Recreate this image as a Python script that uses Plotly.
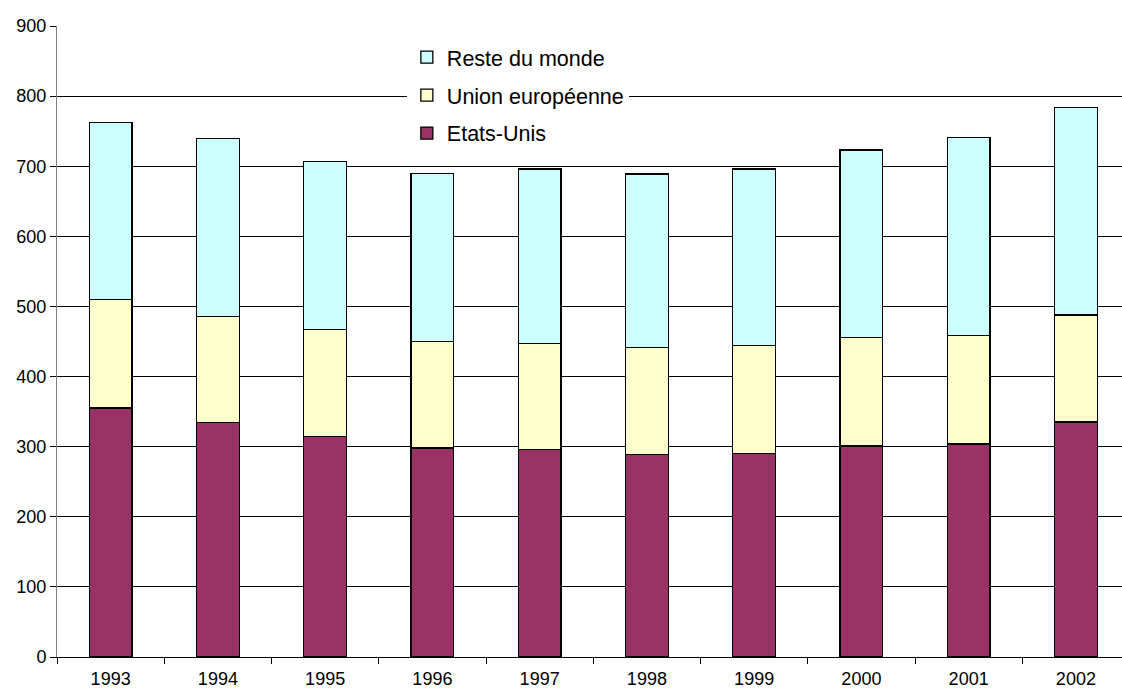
import plotly.graph_objects as go

years = ["1993", "1994", "1995", "1996", "1997", "1998", "1999", "2000", "2001", "2002"]
totals = [762, 740, 707, 690, 696, 689, 696, 723, 741, 784]
eu_top = [510, 486, 467, 450, 447, 441, 444, 456, 459, 488]
etats_unis = [355, 334, 315, 298, 296, 289, 290, 301, 304, 335]

union_europeenne = [e - u for e, u in zip(eu_top, etats_unis)]
reste_du_monde = [t - e for t, e in zip(totals, eu_top)]

names = ["Etats-Unis", "Union européenne", "Reste du monde"]
colors = ["#993366", "#FFFFCC", "#CCFFFF"]
series = [etats_unis, union_europeenne, reste_du_monde]
ranks = [3, 2, 1]

fig = go.Figure()
for name, col, vals, rk in zip(names, colors, series, ranks):
    fig.add_trace(go.Bar(
        x=years, y=vals, name=name, legendgroup=name, legendrank=rk,
        marker=dict(color=col, line=dict(color="#000000", width=1.3)),
        width=0.4,
    ))

fig.update_layout(
    width=1122, height=693,
    barmode="stack",
    plot_bgcolor="white", paper_bgcolor="white",
    margin=dict(l=57, r=0, t=26, b=36),
    font=dict(family="Liberation Sans, Arial", size=18, color="#000000"),
    showlegend=True,
    legend=dict(
        x=0.3285, y=0.983, xanchor="left", yanchor="top",
        bgcolor="white", borderwidth=0,
        traceorder="grouped", tracegroupgap=7,
        font=dict(size=21.5),
    ),
    xaxis=dict(
        type="category", range=[-0.5, 9.43],
        showgrid=False, showline=True, linecolor="#000000", linewidth=1,
        ticks="outside", tickson="boundaries", ticklen=6, tickcolor="#000000",
        ticklabelstandoff=5, automargin=False,
        zeroline=False,
    ),
    yaxis=dict(
        range=[0, 900], dtick=100,
        showgrid=True, gridcolor="#000000", gridwidth=1,
        showline=True, linecolor="#808080", linewidth=1,
        ticks="outside", ticklen=6, tickcolor="#000000",
        automargin=False,
        zeroline=False,
    ),
)

fig.write_html(
    "out.html",
    config={"displayModeBar": False},
    post_script="document.body.style.margin='0';document.body.style.overflow='hidden';",
)
